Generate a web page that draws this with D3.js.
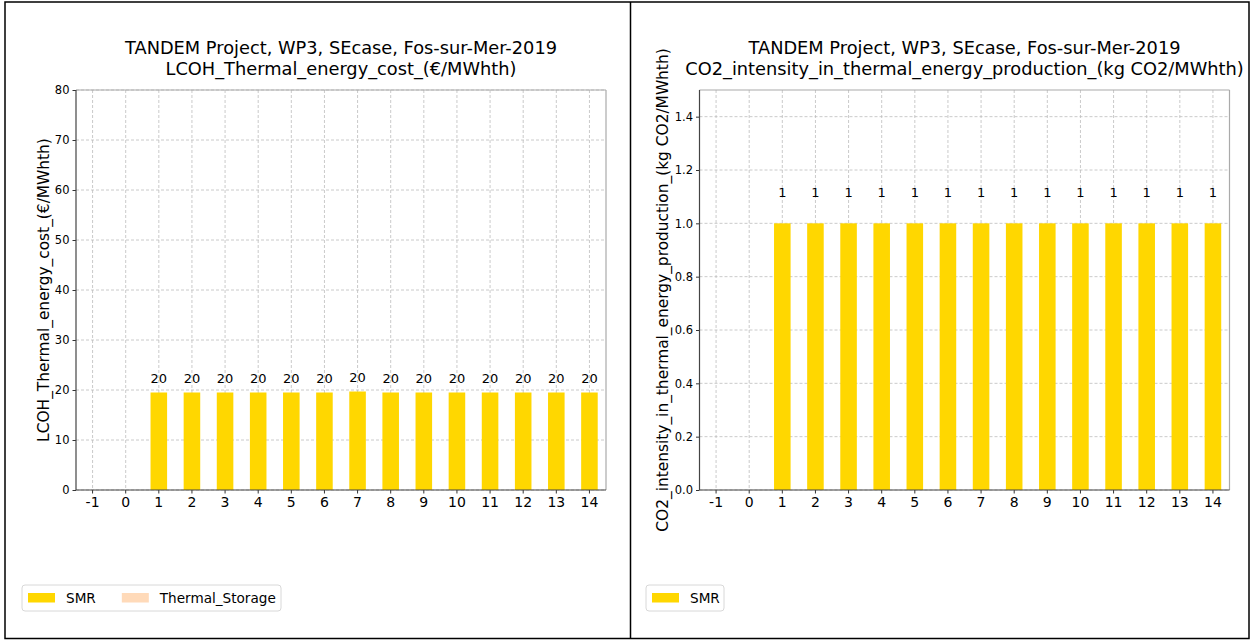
<!DOCTYPE html>
<html>
<head>
<meta charset="utf-8">
<script src="https://cdn.jsdelivr.net/npm/d3@7"></script>
<style>
  body { margin: 0; background: #fff; }
  text { font-family: "DejaVu Sans", sans-serif; fill: #000; }
</style>
</head>
<body>
<div id="chart"></div>
<script>
// data
const years = [-1, 0, 1, 2, 3, 4, 5, 6, 7, 8, 9, 10, 11, 12, 13, 14];
const lcohSMR = [0, 0, 19.5, 19.5, 19.5, 19.5, 19.5, 19.5, 19.7, 19.5, 19.5, 19.5, 19.5, 19.5, 19.5, 19.5];
const lcohStorage = [0, 0, 0, 0, 0, 0, 0, 0, 0, 0, 0, 0, 0, 0, 0, 0];
const co2SMR = [0, 0, 1, 1, 1, 1, 1, 1, 1, 1, 1, 1, 1, 1, 1, 1];
const lcohTicks = [0, 10, 20, 30, 40, 50, 60, 70, 80];
const co2Ticks = [0, 0.2, 0.4, 0.6, 0.8, 1.0, 1.2, 1.4];
const titleLine1 = "TANDEM Project, WP3, SEcase, Fos-sur-Mer-2019";

const colors = {SMR: "#ffd700", Thermal_Storage: "#ffdab9"};

const W = 1251, H = 640;
const svg = d3.select("#chart")
    .append("svg")
    .attr("width", W)
    .attr("height", H);

// outer frame and divider
svg.append("rect")
    .attr("x", 5).attr("y", 2)
    .attr("width", 1244).attr("height", 636.5)
    .attr("fill", "none").attr("stroke", "#000").attr("stroke-width", 1.5);
svg.append("line")
    .attr("x1", 630.5).attr("x2", 630.5).attr("y1", 2).attr("y2", 638.5)
    .attr("stroke", "#000").attr("stroke-width", 1.5);

function drawPanel(p) {
    const width = 530, height = 400;
    const g = svg.append("g").attr("transform", `translate(${p.left},90)`);

    const x = d3.scaleBand()
        .domain(years)
        .range([0, width])
        .paddingInner(0.5)
        .paddingOuter(0.25);
    const y = d3.scaleLinear().domain(p.yDomain).range([height, 0]);

    // grid
    g.append("g").selectAll("line.gy")
        .data(p.yTicks)
        .enter().append("line")
        .attr("x1", 0).attr("x2", width)
        .attr("y1", d => y(d)).attr("y2", d => y(d))
        .attr("stroke", "#bdbdbd").attr("stroke-width", 0.8)
        .attr("stroke-dasharray", "3,2");
    g.append("g").selectAll("line.gx")
        .data(years)
        .enter().append("line")
        .attr("x1", d => x(d) + x.bandwidth() / 2).attr("x2", d => x(d) + x.bandwidth() / 2)
        .attr("y1", 0).attr("y2", height)
        .attr("stroke", "#bdbdbd").attr("stroke-width", 0.8)
        .attr("stroke-dasharray", "3,2");

    // stacked bars
    const rows = years.map((yr, i) => {
        const r = {year: yr};
        p.series.forEach(s => r[s.name] = s.values[i]);
        return r;
    });
    const total = r => p.series.reduce((a, s) => a + r[s.name], 0);
    const stack = d3.stack().keys(p.series.map(s => s.name))(rows);
    g.selectAll("g.layer")
        .data(stack)
        .enter().append("g")
        .attr("fill", d => colors[d.key])
        .selectAll("rect")
        .data(d => d)
        .enter().append("rect")
        .attr("x", d => x(d.data.year))
        .attr("y", d => y(d[1]))
        .attr("width", x.bandwidth())
        .attr("height", d => y(d[0]) - y(d[1]));

    // value labels
    g.selectAll("text.val")
        .data(rows.filter(r => total(r) > 0))
        .enter().append("text")
        .attr("x", d => x(d.year) + x.bandwidth() / 2)
        .attr("y", d => y(total(d)) - p.labelOffset)
        .attr("text-anchor", "middle")
        .style("font-size", "13px")
        .text(d => Math.round(total(d)));

    // axes
    const yAxis = g.append("g")
        .call(d3.axisLeft(y).tickValues(p.yTicks).tickFormat(p.yFormat).tickSize(3.5).tickPadding(3));
    yAxis.selectAll("text").style("font-size", "11.5px").style("font-family", "DejaVu Sans");
    yAxis.selectAll("line").attr("stroke", "#333");
    yAxis.select(".domain").remove();

    const xAxis = g.append("g")
        .attr("transform", `translate(0,${height})`)
        .call(d3.axisBottom(x).tickSize(3.5).tickPadding(3.5));
    xAxis.selectAll("text").style("font-size", "14px").style("font-family", "DejaVu Sans");
    xAxis.selectAll("line").attr("stroke", "#333");
    xAxis.select(".domain").remove();

    // spines
    g.append("line").attr("x1", 0).attr("x2", width).attr("y1", 0).attr("y2", 0)
        .attr("stroke", "#aaa").attr("stroke-width", 1.2);
    g.append("line").attr("x1", width).attr("x2", width).attr("y1", 0).attr("y2", height)
        .attr("stroke", "#aaa").attr("stroke-width", 1.2);
    g.append("line").attr("x1", 0).attr("x2", 0).attr("y1", 0).attr("y2", height)
        .attr("stroke", "#444").attr("stroke-width", 1.2);
    g.append("line").attr("x1", 0).attr("x2", width).attr("y1", height).attr("y2", height)
        .attr("stroke", "#444").attr("stroke-width", 1.2);

    // title
    const cx = width / 2;
    g.append("text").attr("x", cx).attr("y", -36).attr("text-anchor", "middle")
        .style("font-size", "17.8px").text(titleLine1);
    g.append("text").attr("x", cx).attr("y", -15).attr("text-anchor", "middle")
        .style("font-size", "17.8px").text(p.title2);

    // y-axis label
    g.append("text")
        .attr("transform", "rotate(-90)")
        .attr("x", -height / 2)
        .attr("y", p.yLabelPos)
        .attr("text-anchor", "middle")
        .style("font-size", "15.4px")
        .text(p.yLabel);

    // legend
    const lg = svg.append("g").attr("transform", `translate(${p.legend.x},585)`);
    lg.append("rect")
        .attr("width", p.legend.w).attr("height", 26)
        .attr("rx", 3)
        .attr("fill", "#fff").attr("stroke", "#d8d8d8").attr("stroke-width", 1);
    let lx = 6;
    p.series.forEach(s => {
        lg.append("rect").attr("x", lx).attr("y", 8).attr("width", 27).attr("height", 9.5)
            .attr("fill", colors[s.name]);
        const t = lg.append("text").attr("x", lx + 38).attr("y", 18)
            .style("font-size", "13.6px").text(s.name);
        lx += 38 + t.node().getComputedTextLength() + 26;
    });
}

drawPanel({
    left: 76,
    title2: "LCOH_Thermal_energy_cost_(€/MWhth)",
    yLabel: "LCOH_Thermal_energy_cost_(€/MWhth)",
    yLabelPos: -27,
    yDomain: [0, 80],
    yTicks: lcohTicks,
    yFormat: d3.format("d"),
    labelOffset: 10,
    series: [{name: "SMR", values: lcohSMR}, {name: "Thermal_Storage", values: lcohStorage}],
    legend: {x: 22, w: 259}
});

drawPanel({
    left: 699.5,
    title2: "CO2_intensity_in_thermal_energy_production_(kg CO2/MWhth)",
    yLabel: "CO2_intensity_in_thermal_energy_production_(kg CO2/MWhth)",
    yLabelPos: -32,
    yDomain: [0, 1.5],
    yTicks: co2Ticks,
    yFormat: d3.format(".1f"),
    labelOffset: 26,
    series: [{name: "SMR", values: co2SMR}],
    legend: {x: 646, w: 78}
});
</script>
</body>
</html>
